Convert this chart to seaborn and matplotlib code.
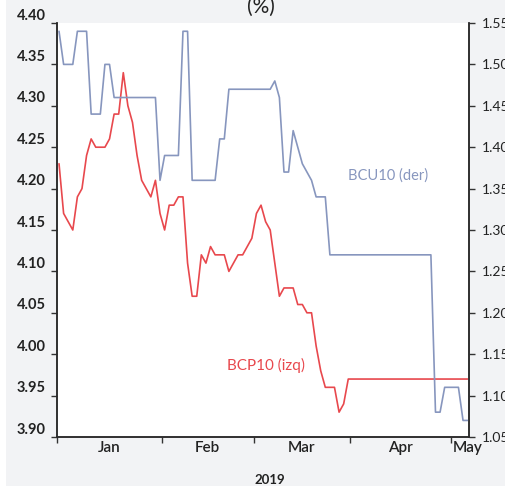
import numpy as np
import pandas as pd
import matplotlib.pyplot as plt
import matplotlib.transforms as mtransforms
import seaborn as sns

fechas = pd.bdate_range('2019-01-02', '2019-05-07')

bcp10 = [4.23, 4.17, 4.16, 4.15, 4.19, 4.20, 4.24, 4.26, 4.25, 4.25,
         4.25, 4.26, 4.29, 4.29, 4.34, 4.30, 4.28, 4.24, 4.21, 4.20,
         4.19, 4.21, 4.17, 4.15, 4.18, 4.18, 4.19, 4.19, 4.11, 4.07,
         4.07, 4.12, 4.11, 4.13, 4.12, 4.12, 4.12, 4.10, 4.11, 4.12,
         4.12, 4.13, 4.14, 4.17, 4.18, 4.16, 4.15, 4.11, 4.07, 4.08,
         4.08, 4.08, 4.06, 4.06, 4.05, 4.05, 4.01, 3.98, 3.96, 3.96,
         3.96, 3.93, 3.94] + [3.97] * 27

bcu10 = [1.54, 1.50, 1.50, 1.50, 1.54, 1.54, 1.54, 1.44, 1.44, 1.44,
         1.50, 1.50, 1.46] + [1.46] * 9 + [1.36, 1.39, 1.39, 1.39, 1.39, 1.54, 1.54, 1.36] \
        + [1.36] * 5 + [1.41, 1.41] + [1.47] * 10 + [1.48, 1.46, 1.37,
         1.37, 1.42, 1.40, 1.38, 1.37, 1.36, 1.34, 1.34, 1.34] + [1.27] * 23 \
        + [1.08, 1.08, 1.11, 1.11, 1.11, 1.11, 1.07, 1.07]

meses = ['Jan', 'Feb', 'Mar', 'Apr', 'May']

df = pd.DataFrame({'fecha': fechas, 'BCP10': bcp10, 'BCU10': bcu10})
df['i'] = np.arange(len(df))

rojo = '#e8484d'
azul = '#8796be'
fondo = '#f2f3f5'

sns.set_style('ticks')
plt.rcParams['font.family'] = ['Lato', 'DejaVu Sans']

fig = plt.figure(figsize=(5.06, 4.86), dpi=100, facecolor=fondo)
ax = fig.add_axes([57 / 506, 1 - 437 / 486, 412 / 506, 414 / 486])
ax.set_facecolor('white')
ax2 = ax.twinx()

sns.lineplot(data=df, x='i', y='BCP10', ax=ax, color=rojo, linewidth=1.2)
sns.lineplot(data=df, x='i', y='BCU10', ax=ax2, color=azul, linewidth=1.2)

x0, x1 = -0.44, 89.3
ax.set_xlim(x0, x1)
ax.set_ylim(3.90, 4.40)
ax2.set_ylim(1.05, 1.55)
ax.set_yticks(np.arange(3.90, 4.401, 0.05))
ax2.set_yticks(np.arange(1.05, 1.551, 0.05))
ax.yaxis.set_major_formatter(plt.FormatStrFormatter('%.2f'))
ax2.yaxis.set_major_formatter(plt.FormatStrFormatter('%.2f'))

# month boundaries / labels
primeros = df.groupby(df['fecha'].dt.month)['i'].min().values
bordes = [x0] + [p + 0.4 for p in primeros[1:]]
centros = [(a + b) / 2 for a, b in zip(bordes, bordes[1:] + [x1])]
centros[-1] = df['i'].iloc[-1]
ax.set_xticks(bordes)
ax.set_xticklabels([])
ax.set_xticks(centros, minor=True)
ax.set_xticklabels(meses, minor=True)
ax.tick_params(axis='x', which='minor', length=0, pad=3, labelsize=11, labelcolor='#222')
ax.tick_params(axis='x', which='major', length=4, width=1, color='#333')
ax.tick_params(axis='y', length=4, width=1, color='#333', labelsize=10.5, labelcolor='#222', pad=4)
ax2.tick_params(axis='y', length=4, width=1, color='#333', labelsize=10, labelcolor='#222', pad=5)
for lab in ax.get_yticklabels():
    lab.set_fontweight('bold')
    lab.set_transform(lab.get_transform() + mtransforms.ScaledTranslation(0, 0.09, fig.dpi_scale_trans))
for lab in ax.get_xticklabels(minor=True):
    lab.set_fontweight('semibold')

ax.set_xlabel('')
ax.set_ylabel('')
ax2.set_ylabel('')

for a in (ax, ax2):
    a.spines['top'].set_visible(False)
    for s in ('left', 'right', 'bottom'):
        a.spines[s].set_color('#2a2a2a')
        a.spines[s].set_linewidth(1.1)

ax.text(63, 3.90 + (1.366 - 1.05), 'BCU10 (der)', color=azul, fontsize=10.5, va='center')
ax.text(36.6, 3.986, 'BCP10 (izq)', color=rojo, fontsize=11, va='center')

fig.text(270 / 506, 1 - 480 / 486, '2019', fontsize=9.5, fontweight='bold', ha='center', va='center', color='#222')
fig.text(261 / 506, 1 - 13 / 486, '(%)', fontsize=15, ha='center', va='baseline', color='#222')
fig.patches.append(plt.Rectangle((0, 0), 6 / 506, 1, transform=fig.transFigure,
                                 facecolor='white', edgecolor='none', zorder=0))

plt.savefig('out.png', dpi=100, facecolor=fondo)
